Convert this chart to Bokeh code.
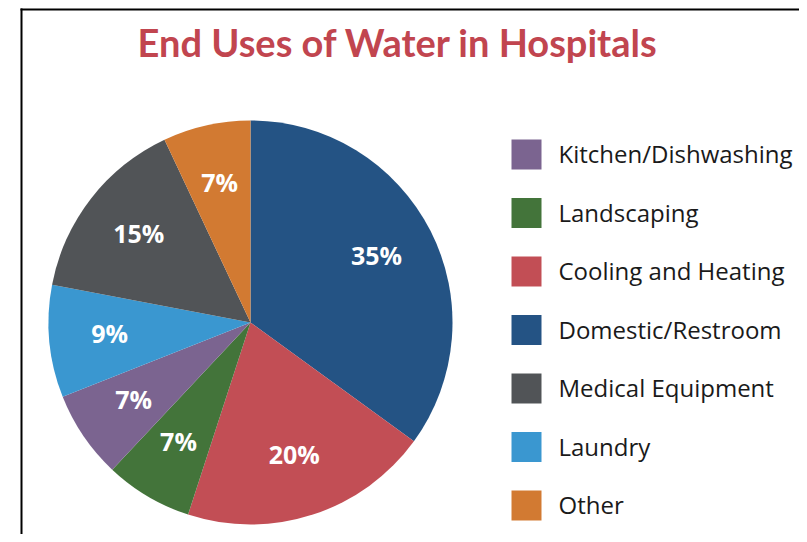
import math
from bokeh.plotting import figure
from bokeh.models import ColumnDataSource
from bokeh.core.properties import value
from bokeh.embed import file_html
from bokeh.resources import INLINE

# ---- data ----
title_text = "End Uses of Water in Hospitals"
legend_categories = ["Kitchen/Dishwashing", "Landscaping", "Cooling and Heating",
                     "Domestic/Restroom", "Medical Equipment", "Laundry", "Other"]
legend_colors = ["#7b6490", "#43743a", "#c24e55", "#245384", "#515457", "#3a97d0", "#d27a32"]
# clockwise from 12 o'clock
pie_categories = ["Domestic/Restroom", "Cooling and Heating", "Landscaping",
                  "Kitchen/Dishwashing", "Laundry", "Medical Equipment", "Other"]
pie_values = [35, 20, 7, 7, 9, 15, 7]

# ---- layout ----
W, H = 799, 534
cx, cy, R = 250, 212, 202
label_r = 0.70 * R

color_of = dict(zip(legend_categories, legend_colors))
total = float(sum(pie_values))
starts, ends, lx, ly, labels, cols = [], [], [], [], [], []
cum = 0.0
for cat, v in zip(pie_categories, pie_values):
    a0 = math.pi / 2 - 2 * math.pi * cum / total
    a1 = math.pi / 2 - 2 * math.pi * (cum + v) / total
    starts.append(a1)
    ends.append(a0)
    mid = (a0 + a1) / 2
    lx.append(cx + label_r * math.cos(mid))
    ly.append(cy + label_r * math.sin(mid) + 3)
    labels.append(f"{v}%")
    cols.append(color_of[cat])
    cum += v

pie_src = ColumnDataSource(dict(start=starts, end=ends, color=cols, lx=lx, ly=ly, label=labels))

p = figure(width=W, height=H, x_range=(0, W), y_range=(0, H), output_backend="svg",
           toolbar_location=None, min_border=0)
p.axis.visible = False
p.grid.visible = False
p.outline_line_color = None
p.background_fill_color = "white"
p.border_fill_color = "white"

# frame lines
p.segment(x0=[21, 20], y0=[0, 525], x1=[21, W], y1=[526, 525],
          line_color="black", line_width=2)

p.wedge(x=cx, y=cy, radius=R, start_angle="start", end_angle="end",
        fill_color="color", line_color=None, source=pie_src)
p.text(x="lx", y="ly", text="label", source=pie_src, text_color="white",
       text_font=value("Open Sans"), text_font_style="bold", text_font_size="25px",
       text_align="center", text_baseline="middle")

# title
p.text(x=[397.5], y=[493], text=[title_text], text_color="#c1454f",
       text_font=value("Lato"), text_font_style="bold", text_font_size="38px",
       text_align="center", text_baseline="alphabetic")

# legend
n = len(legend_categories)
sq_x = 526
sq_y = [380 - 58.5 * i for i in range(n)]
p.rect(x=[sq_x] * n, y=sq_y, width=30, height=30, fill_color=legend_colors, line_color=None)
p.text(x=[558] * n, y=[y + 1 for y in sq_y], text=legend_categories, text_color="#1a1a1a",
       text_font=value("Open Sans"), text_font_size="24px",
       text_align="left", text_baseline="alphabetic")

open("out.html", "w").write(file_html(p, INLINE))
